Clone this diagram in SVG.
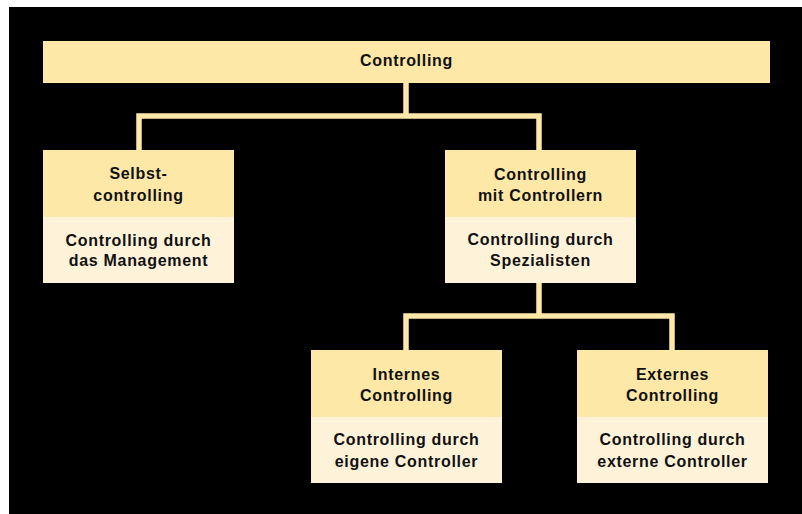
<svg xmlns="http://www.w3.org/2000/svg" width="802" height="514" viewBox="0 0 802 514">
<style>
.head{fill:#FDE8A8}
.body{fill:#FEF3D9}
.t{font-family:"Liberation Sans",Arial,sans-serif;font-weight:bold;font-size:16px;fill:#111;text-anchor:middle;letter-spacing:0.7px}
.c{fill:none;stroke:#FDE8A8;stroke-width:5.5}
</style>
<rect x="0" y="0" width="802" height="514" fill="#fff"/>
<rect x="9" y="7" width="793" height="507" fill="#000"/>
<g id="connectors">
<path class="c" d="M406 83V116M139 150V116H539V150"/>
<path class="c" d="M539 283V316M406 350V316H672V350"/>
</g>
<g id="root">
<rect class="head" x="43" y="41" width="727" height="42"/>
<text class="t" x="406.5" y="66">Controlling</text>
</g>
<g id="selbst">
<rect class="head" x="43" y="150" width="191" height="67"/>
<rect class="body" x="43" y="217" width="191" height="66"/>
<text class="t" x="138.5" y="179">Selbst-</text>
<text class="t" x="138.5" y="200.5">controlling</text>
<text class="t" x="138.5" y="245.5">Controlling durch</text>
<text class="t" x="138.5" y="266">das Management</text>
</g>
<g id="mitcontrollern">
<rect class="head" x="445" y="150" width="191" height="67"/>
<rect class="body" x="445" y="217" width="191" height="66"/>
<text class="t" x="540.5" y="180">Controlling</text>
<text class="t" x="540.5" y="201">mit Controllern</text>
<text class="t" x="540.5" y="245">Controlling durch</text>
<text class="t" x="540.5" y="266">Spezialisten</text>
</g>
<g id="internes">
<rect class="head" x="311" y="350" width="191" height="67"/>
<rect class="body" x="311" y="417" width="191" height="66"/>
<text class="t" x="406.5" y="380">Internes</text>
<text class="t" x="406.5" y="401">Controlling</text>
<text class="t" x="406.5" y="445">Controlling durch</text>
<text class="t" x="406.5" y="466.5">eigene Controller</text>
</g>
<g id="externes">
<rect class="head" x="577" y="350" width="191" height="67"/>
<rect class="body" x="577" y="417" width="191" height="66"/>
<text class="t" x="672.5" y="380">Externes</text>
<text class="t" x="672.5" y="401">Controlling</text>
<text class="t" x="672.5" y="445">Controlling durch</text>
<text class="t" x="672.5" y="466.5">externe Controller</text>
</g>
</svg>
